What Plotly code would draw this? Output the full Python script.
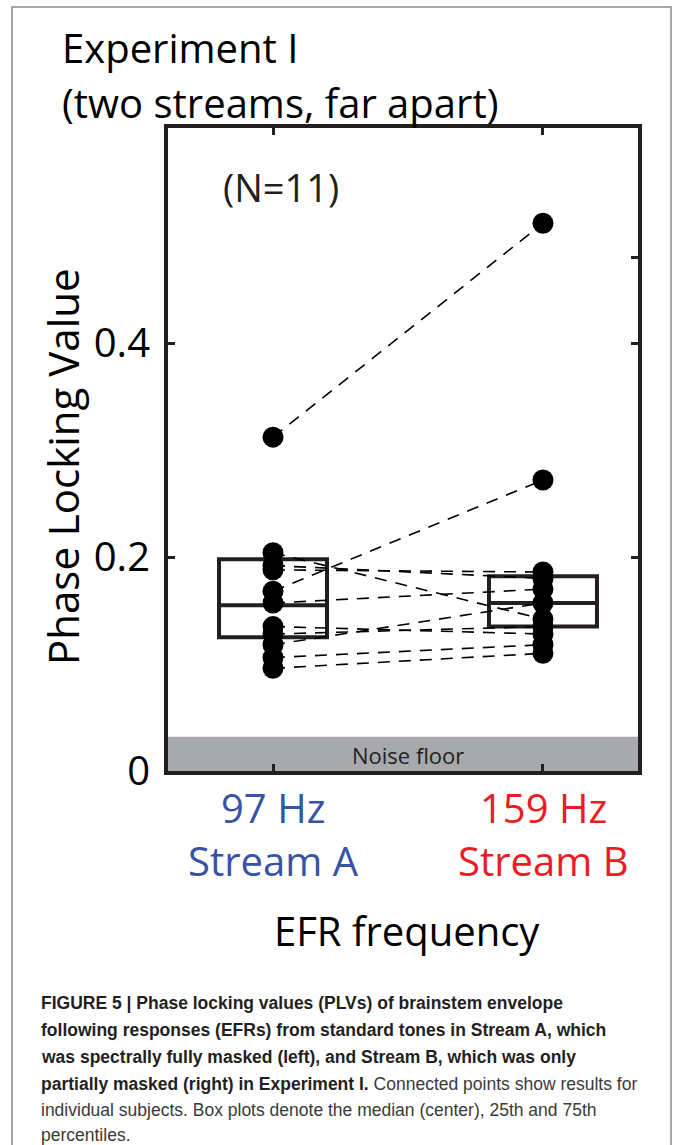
import plotly.graph_objects as go

# ---------------- data ----------------
categories = ["Stream A", "Stream B"]
tick_top = ["97 Hz", "159 Hz"]
tick_colors = ["#3853a4", "#ed1c24"]
x_pos = [0, 1]

# per-subject PLVs (paired)
plv_stream_a = [0.312, 0.168, 0.204, 0.192, 0.188, 0.157, 0.135, 0.128, 0.118, 0.106, 0.096]
plv_stream_b = [0.512, 0.272, 0.142, 0.180, 0.186, 0.170, 0.128, 0.135, 0.157, 0.118, 0.110]

# box statistics (25th, median, 75th percentiles)
box_q1 = [0.125, 0.135]
box_median = [0.155, 0.157]
box_q3 = [0.198, 0.182]

noise_floor = 0.032
y_ticks = [0, 0.2, 0.4]
y_tick_text = ["0", "0.2", "0.4"]
right_ticks = [0.2, 0.4, 0.48]

W, H = 673, 1145
L, R, T, B = 168, 638, 128, 771
FONT = "Open Sans"
DARK = "#231f20"


def xp(px):
    return (px - L) / (R - L)


def yp(py):
    return (B - py) / (B - T)


fig = go.Figure()

# subject lines
for a, b in zip(plv_stream_a, plv_stream_b):
    fig.add_trace(go.Scatter(
        x=x_pos, y=[a, b], mode="lines",
        line=dict(color="black", width=1.6, dash="12px,9px"),
        showlegend=False, hoverinfo="skip"))

# points
fig.add_trace(go.Scatter(
    x=[x_pos[0]] * len(plv_stream_a) + [x_pos[1]] * len(plv_stream_b),
    y=plv_stream_a + plv_stream_b,
    mode="markers",
    marker=dict(color="black", size=21, line=dict(width=0)),
    showlegend=False))

# boxes
fig.add_trace(go.Box(
    x=x_pos, q1=box_q1, median=box_median, q3=box_q3,
    lowerfence=box_q1, upperfence=box_q3,
    width=0.4, whiskerwidth=0,
    fillcolor="rgba(0,0,0,0)",
    line=dict(color=DARK, width=4),
    boxpoints=False, showlegend=False))

# invisible trace on right axis to draw its ticks
fig.add_trace(go.Scatter(x=[0], y=[0.3], yaxis="y2", mode="markers",
                         marker=dict(opacity=0), showlegend=False, hoverinfo="skip"))

# noise floor band
fig.add_shape(type="rect", xref="x domain", yref="y", x0=0, x1=1, y0=0, y1=noise_floor,
              fillcolor="#a7a9ac", line=dict(width=0), layer="below")

# outer frame of the figure panel
fig.add_shape(type="rect", xref="paper", yref="paper",
              x0=xp(12), x1=xp(671), y0=yp(1160), y1=yp(7),
              line=dict(color="#8a8a8a", width=1.5), fillcolor="rgba(0,0,0,0)")

ann = []
ann.append(dict(text="Experiment I", x=xp(60), y=yp(47), xanchor="left", yanchor="middle",
                font=dict(family=FONT, size=40, color="black")))
ann.append(dict(text="(two streams, far apart)", x=xp(60), y=yp(103), xanchor="left", yanchor="middle",
                font=dict(family=FONT, size=40, color="black")))
ann.append(dict(text="(N=11)", x=xp(281), y=yp(187), xanchor="center", yanchor="middle",
                font=dict(family=FONT, size=38, color=DARK)))
ann.append(dict(text="Phase Locking Value", x=xp(62), y=yp(467), xanchor="center", yanchor="middle",
                textangle=-90, font=dict(family=FONT, size=42, color="black")))
ann.append(dict(text="Noise floor", x=xp(408), y=yp(755), xanchor="center", yanchor="middle",
                font=dict(family=FONT, size=22, color=DARK)))
ann.append(dict(text="EFR frequency", x=xp(407), y=yp(930), xanchor="center", yanchor="middle",
                font=dict(family=FONT, size=40, color="black")))
for i in range(2):
    cx = [273, 543][i]
    ann.append(dict(text=tick_top[i], x=xp(cx), y=yp(808), xanchor="center", yanchor="middle",
                    font=dict(family=FONT, size=40, color=tick_colors[i])))
    ann.append(dict(text=categories[i], x=xp(cx), y=yp(860), xanchor="center", yanchor="middle",
                    font=dict(family=FONT, size=40, color=tick_colors[i])))

caption = [
    "<b>FIGURE 5 | Phase locking values (PLVs) of brainstem envelope</b>",
    "<b>following responses (EFRs) from standard tones in Stream A, which</b>",
    "<b>was spectrally fully masked (left), and Stream B, which was only</b>",
    "<b>partially masked (right) in Experiment I.</b> <span style='color:#3a3a3a'>Connected points show results for</span>",
    "<span style='color:#3a3a3a'>individual subjects. Box plots denote the median (center), 25th and 75th</span>",
    "<span style='color:#3a3a3a'>percentiles.</span>",
]
cap_y = [1003, 1030, 1057, 1084, 1110, 1135]
for t, y in zip(caption, cap_y):
    ann.append(dict(text=t, x=xp(39), y=yp(y), xanchor="left", yanchor="middle",
                    font=dict(family="Liberation Sans, Arial", size=17.5, color=DARK)))

for a in ann:
    a.update(xref="paper", yref="paper", showarrow=False)
fig.update_layout(annotations=ann)

fig.update_layout(
    width=W, height=H,
    margin=dict(l=L, r=W - R, t=T, b=H - B, pad=0),
    paper_bgcolor="white", plot_bgcolor="white",
    showlegend=False,
    xaxis=dict(range=[-0.389, 1.352], tickvals=x_pos, ticktext=["", ""],
               ticks="inside", ticklen=7, tickwidth=3, tickcolor=DARK,
               showline=True, linewidth=4, linecolor=DARK, mirror="ticks",
               showgrid=False, zeroline=False, fixedrange=True),
    yaxis=dict(range=[0, 0.601], tickvals=y_ticks, ticktext=y_tick_text,
               ticks="inside", ticklen=7, tickwidth=3, tickcolor=DARK,
               showline=True, linewidth=4, linecolor=DARK, mirror=True,
               tickfont=dict(family=FONT, size=40, color="black"),
               showgrid=False, zeroline=False, ticklabelstandoff=6),
    yaxis2=dict(range=[0, 0.601], overlaying="y", side="right", tickvals=right_ticks,
                ticks="inside", ticklen=7, tickwidth=3, tickcolor=DARK,
                showticklabels=False, showline=False, showgrid=False, zeroline=False),
)

fig.write_html("out.html")
